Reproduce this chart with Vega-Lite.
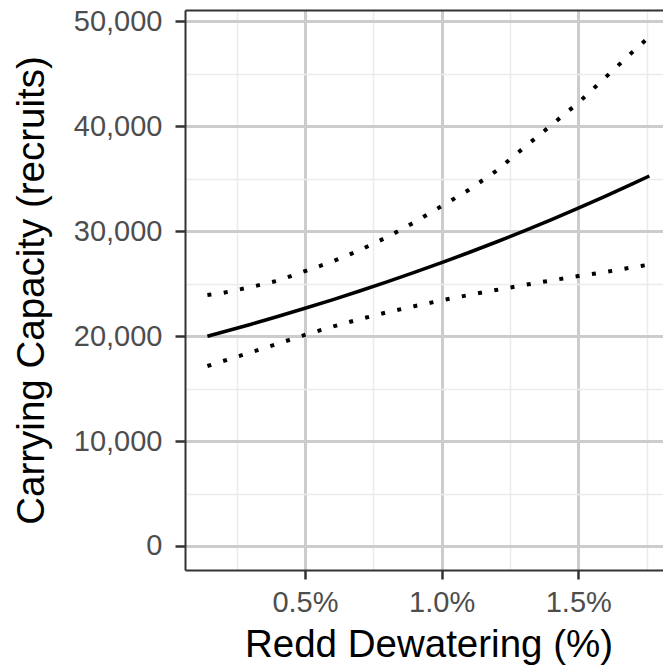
{
  "$schema": "https://vega.github.io/schema/vega-lite/v6.json",
  "width": 478,
  "height": 560,
  "autosize": "none",
  "padding": {"left": 185, "top": 10, "right": 0, "bottom": 97},
  "background": "white",
  "config": {
    "view": {"stroke": null},
    "font": "Liberation Sans",
    "axis": {"labelFont": "Liberation Sans", "titleFont": "Liberation Sans"}
  },
  "data": {
    "values": [
      {"x": 0.143, "y": 20000, "series": "Estimate"},
      {"x": 0.2, "y": 20400, "series": "Estimate"},
      {"x": 0.3, "y": 21120, "series": "Estimate"},
      {"x": 0.4, "y": 21880, "series": "Estimate"},
      {"x": 0.5, "y": 22660, "series": "Estimate"},
      {"x": 0.6, "y": 23470, "series": "Estimate"},
      {"x": 0.7, "y": 24310, "series": "Estimate"},
      {"x": 0.8, "y": 25180, "series": "Estimate"},
      {"x": 0.9, "y": 26080, "series": "Estimate"},
      {"x": 1.0, "y": 27010, "series": "Estimate"},
      {"x": 1.1, "y": 27980, "series": "Estimate"},
      {"x": 1.2, "y": 28980, "series": "Estimate"},
      {"x": 1.3, "y": 30010, "series": "Estimate"},
      {"x": 1.4, "y": 31090, "series": "Estimate"},
      {"x": 1.5, "y": 32200, "series": "Estimate"},
      {"x": 1.6, "y": 33350, "series": "Estimate"},
      {"x": 1.7, "y": 34540, "series": "Estimate"},
      {"x": 1.76, "y": 35270, "series": "Estimate"},
      {"x": 0.143, "y": 23930, "series": "Upper"},
      {"x": 0.2, "y": 24130, "series": "Upper"},
      {"x": 0.3, "y": 24670, "series": "Upper"},
      {"x": 0.4, "y": 25290, "series": "Upper"},
      {"x": 0.5, "y": 26200, "series": "Upper"},
      {"x": 0.6, "y": 27110, "series": "Upper"},
      {"x": 0.7, "y": 28190, "series": "Upper"},
      {"x": 0.8, "y": 29440, "series": "Upper"},
      {"x": 0.9, "y": 30850, "series": "Upper"},
      {"x": 1.0, "y": 32400, "series": "Upper"},
      {"x": 1.1, "y": 33960, "series": "Upper"},
      {"x": 1.2, "y": 35760, "series": "Upper"},
      {"x": 1.3, "y": 37950, "series": "Upper"},
      {"x": 1.4, "y": 40090, "series": "Upper"},
      {"x": 1.5, "y": 42250, "series": "Upper"},
      {"x": 1.6, "y": 44680, "series": "Upper"},
      {"x": 1.7, "y": 47130, "series": "Upper"},
      {"x": 1.76, "y": 48550, "series": "Upper"},
      {"x": 0.143, "y": 17160, "series": "Lower"},
      {"x": 0.2, "y": 17630, "series": "Lower"},
      {"x": 0.3, "y": 18440, "series": "Lower"},
      {"x": 0.4, "y": 19280, "series": "Lower"},
      {"x": 0.5, "y": 20130, "series": "Lower"},
      {"x": 0.6, "y": 20910, "series": "Lower"},
      {"x": 0.7, "y": 21620, "series": "Lower"},
      {"x": 0.8, "y": 22280, "series": "Lower"},
      {"x": 0.9, "y": 22860, "series": "Lower"},
      {"x": 1.0, "y": 23420, "series": "Lower"},
      {"x": 1.1, "y": 23930, "series": "Lower"},
      {"x": 1.2, "y": 24410, "series": "Lower"},
      {"x": 1.3, "y": 24870, "series": "Lower"},
      {"x": 1.4, "y": 25310, "series": "Lower"},
      {"x": 1.5, "y": 25730, "series": "Lower"},
      {"x": 1.6, "y": 26120, "series": "Lower"},
      {"x": 1.7, "y": 26570, "series": "Lower"},
      {"x": 1.76, "y": 26820, "series": "Lower"}
    ]
  },
  "resolve": {"axis": {"x": "independent", "y": "independent"}},
  "layer": [
    {
      "transform": [{"filter": "datum.series === 'Estimate'"}],
      "mark": {"type": "line", "stroke": "black", "strokeWidth": 3.5, "clip": true},
      "encoding": {
        "x": {
          "field": "x", "type": "quantitative",
          "scale": {"domain": [0.061, 1.81], "nice": false, "zero": false},
          "axis": {
            "orient": "bottom",
            "values": [0.25, 0.5, 0.75, 1, 1.25, 1.5, 1.75],
            "labelExpr": "abs(datum.value * 2 - round(datum.value * 2)) < 0.000001 ? format(datum.value, '.1f') + '%' : ''",
            "labelOverlap": false,
            "labelFontSize": 29,
            "labelColor": "#4d4d4d",
            "labelPadding": 9,
            "tickSize": 9,
            "tickWidth": 2.5,
            "tickColor": "#333333",
            "tickOpacity": {"condition": {"test": "abs(datum.value * 2 - round(datum.value * 2)) < 0.000001", "value": 1}, "value": 0},
            "grid": true,
            "gridColor": {"condition": {"test": "abs(datum.value * 2 - round(datum.value * 2)) < 0.000001", "value": "#cccccc"}, "value": "#ebebeb"},
            "gridWidth": {"condition": {"test": "abs(datum.value * 2 - round(datum.value * 2)) < 0.000001", "value": 3}, "value": 1.5},
            "domain": true,
            "domainColor": "#333333",
            "domainWidth": 2,
            "title": "Redd Dewatering (%)",
            "titleFontSize": 38.5,
            "titleFontWeight": "normal",
            "titleColor": "#000000",
            "titlePadding": 9,
            "titleX": 243.5,
            "titleAlign": "center"
          }
        },
        "y": {
          "field": "y", "type": "quantitative",
          "scale": {"domain": [-2288, 51096], "nice": false, "zero": false},
          "axis": {
            "orient": "left",
            "values": [0, 5000, 10000, 15000, 20000, 25000, 30000, 35000, 40000, 45000, 50000],
            "labelExpr": "datum.value % 10000 == 0 ? format(datum.value, ',') : ''",
            "labelOverlap": false,
            "labelFontSize": 29,
            "labelColor": "#4d4d4d",
            "labelPadding": 13,
            "tickSize": 10,
            "tickWidth": 2.5,
            "tickColor": "#333333",
            "tickOpacity": {"condition": {"test": "datum.value % 10000 == 0", "value": 1}, "value": 0},
            "grid": true,
            "gridColor": {"condition": {"test": "datum.value % 10000 == 0", "value": "#cccccc"}, "value": "#ebebeb"},
            "gridWidth": {"condition": {"test": "datum.value % 10000 == 0", "value": 3}, "value": 1.5},
            "domain": true,
            "domainColor": "#333333",
            "domainWidth": 2,
            "title": "Carrying Capacity (recruits)",
            "titleFontSize": 38.5,
            "titleFontWeight": "normal",
            "titleColor": "#000000",
            "titlePadding": 22
          }
        }
      }
    },
    {
      "transform": [{"filter": "datum.series !== 'Estimate'"}],
      "mark": {"type": "line", "stroke": "black", "strokeWidth": 4, "strokeDash": [4, 12.5], "strokeCap": "butt", "clip": true},
      "encoding": {
        "x": {
          "field": "x", "type": "quantitative",
          "scale": {"domain": [0.061, 1.81], "nice": false, "zero": false},
          "axis": {
            "orient": "top",
            "grid": false,
            "ticks": false,
            "labels": false,
            "title": null,
            "domain": true,
            "domainColor": "#333333",
            "domainWidth": 2
          }
        },
        "y": {
          "field": "y", "type": "quantitative",
          "scale": {"domain": [-2288, 51096], "nice": false, "zero": false},
          "axis": null
        },
        "detail": {"field": "series", "type": "nominal"}
      }
    }
  ]
}
